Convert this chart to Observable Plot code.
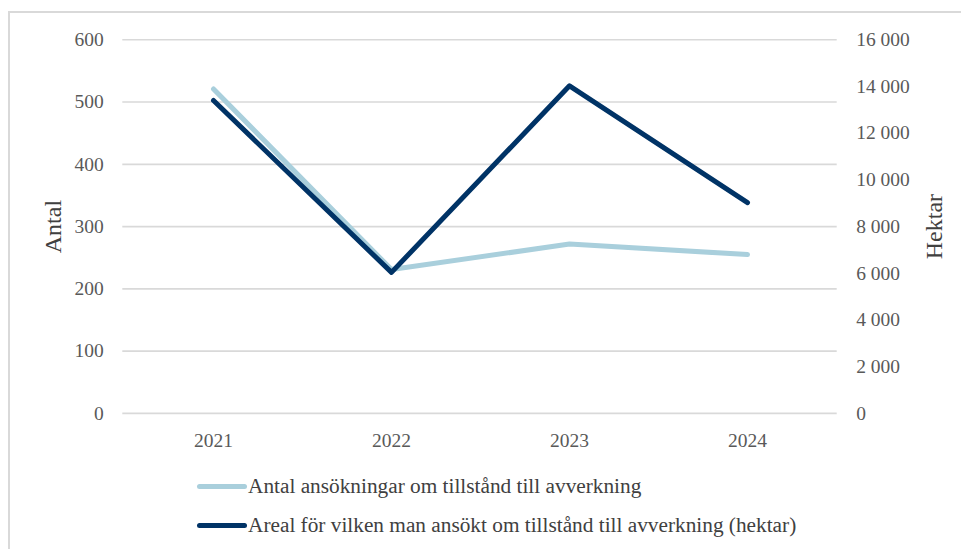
<!DOCTYPE html>
<html>
<head>
<meta charset="utf-8">
<script src="https://cdn.jsdelivr.net/npm/d3@7"></script>
<script src="https://cdn.jsdelivr.net/npm/@observablehq/plot@0.6"></script>
<style>
  body { margin: 0; background: #fff; font-family: "Liberation Serif", "Times New Roman", serif; }
  #wrap { position: relative; width: 961px; height: 549px; overflow: hidden; }
  #frame { position: absolute; left: 8px; top: 11px; width: 970px; height: 560px; border: 2px solid #d9d9d9; box-sizing: border-box; }
  #chart { position: absolute; left: 0; top: 0; }
  .leg { position: absolute; left: 197px; display: flex; align-items: center; font-size: 21.3px; color: #404040; white-space: nowrap; }
  .leg .sw { width: 50px; height: 5px; border-radius: 3px; margin-right: 1px; }
</style>
</head>
<body>
<div id="wrap">
  <div id="frame"></div>
  <div id="chart"></div>
  <div class="leg" style="top:474px"><span class="sw" style="background:#a9cfdc"></span><span>Antal ansökningar om tillstånd till avverkning</span></div>
  <div class="leg" style="top:513px"><span class="sw" style="background:#003366"></span><span>Areal för vilken man ansökt om tillstånd till avverkning (hektar)</span></div>
</div>
<script>
const years = ["2021", "2022", "2023", "2024"];
const antal = [521, 231, 272, 255];
const hektar = [13400, 6040, 14030, 9030];
const leftTicks = [0, 100, 200, 300, 400, 500, 600];
const rightTicks = [0, 2000, 4000, 6000, 8000, 10000, 12000, 14000, 16000];

const ratio = 600 / 16000;
const fmt = d3.formatLocale({decimal: ",", thousands: " ", grouping: [3], currency: ["", ""]}).format(",d");

const antalData = years.map((y, i) => ({year: y, v: antal[i]}));
const hektarData = years.map((y, i) => ({year: y, v: hektar[i] * ratio}));

const plot = Plot.plot({
  width: 961,
  height: 460,
  marginLeft: 122.3,
  marginRight: 124.3,
  marginTop: 39.3,
  marginBottom: 47.1,
  style: {fontFamily: "Liberation Serif, Times New Roman, serif", fontSize: "19.5px", color: "#595959", background: "transparent", overflow: "visible"},
  x: {type: "point", domain: years, padding: 0.5},
  y: {domain: [0, 600]},
  marks: [
    Plot.gridY(leftTicks, {stroke: "#d9d9d9", strokeOpacity: 1, strokeWidth: 1.6}),
    Plot.axisY(leftTicks, {anchor: "left", tickSize: 0, tickPadding: 19, label: null, fill: "#595959"}),
    Plot.axisY(rightTicks.map(t => t * ratio), {anchor: "right", tickSize: 0, tickPadding: 19, label: null, tickFormat: d => fmt(Math.round(d / ratio)), fill: "#595959"}),
    Plot.axisX(years, {tickSize: 0, tickPadding: 20, label: null, fill: "#595959"}),
    Plot.text(["Antal"], {frameAnchor: "left", textAnchor: "middle", rotate: -90, dx: -69, fill: "#404040", fontSize: 24}),
    Plot.text(["Hektar"], {frameAnchor: "right", textAnchor: "middle", rotate: -90, dx: 97, fill: "#404040", fontSize: 24}),
    Plot.line(antalData, {x: "year", y: "v", stroke: "#a9cfdc", strokeWidth: 5, strokeLinecap: "round", strokeLinejoin: "round"}),
    Plot.line(hektarData, {x: "year", y: "v", stroke: "#003366", strokeWidth: 5, strokeLinecap: "round", strokeLinejoin: "round"})
  ]
});
document.getElementById("chart").appendChild(plot);
</script>
</body>
</html>
